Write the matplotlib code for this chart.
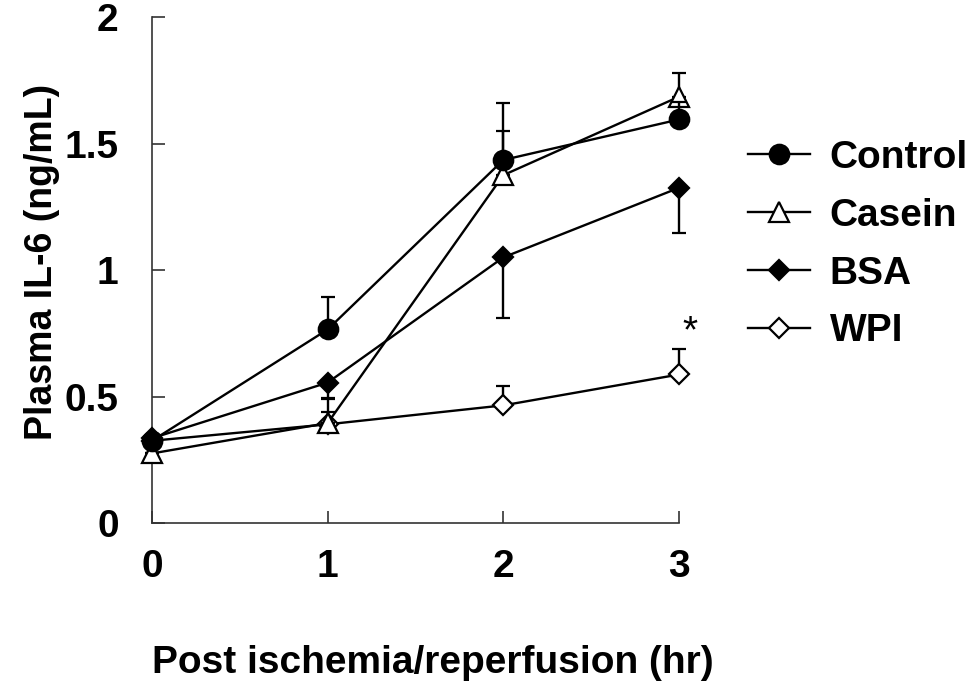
import numpy as np
import matplotlib.pyplot as plt

plt.rcParams['font.family'] = ['Liberation Sans', 'DejaVu Sans']
plt.rcParams['font.weight'] = 'bold'

# time points (hr)
hours = [0, 1, 2, 3]

# plasma IL-6 (ng/mL)
control = [0.325, 0.765, 1.435, 1.595]
casein = [0.275, 0.395, 1.375, 1.685]
bsa = [0.335, 0.555, 1.050, 1.325]
wpi = [0.325, 0.390, 0.465, 0.587]

# one-sided error bars (upper for most, lower for BSA)
control_err = [0.0, 0.13, 0.115, 0.07]
casein_err = [0.0, 0.045, 0.285, 0.095]
bsa_err = [0.0, 0.06, 0.24, 0.18]
wpi_err = [0.0, 0.10, 0.075, 0.10]

zeros = [0, 0, 0, 0]

fig = plt.figure(figsize=(9.78, 6.86), dpi=100)
ax = fig.add_axes([0.1554, 0.2376, 0.5389, 0.7376])

lw = 1.7
common = dict(color='black', lw=lw, capsize=5, capthick=lw, elinewidth=lw,
              markeredgewidth=1.6, clip_on=False)

c_wpi = ax.errorbar(hours, wpi, yerr=[zeros, wpi_err], marker='D', markersize=10.5,
                    markerfacecolor='white', markeredgecolor='black', zorder=3, **common)
c_bsa = ax.errorbar(hours, bsa, yerr=[bsa_err, zeros], marker='D', markersize=10.5,
                    markerfacecolor='black', markeredgecolor='black', zorder=4, **common)
c_cas = ax.errorbar(hours, casein, yerr=[zeros, casein_err], marker='^', markersize=14,
                    markerfacecolor='white', markeredgecolor='black', zorder=5, **common)
c_con = ax.errorbar(hours, control, yerr=[zeros, control_err], marker='o', markersize=14,
                    markerfacecolor='black', markeredgecolor='black', zorder=6, **common)

ax.text(3.06, 0.755, '*', fontsize=28, fontweight='normal', ha='center', va='center')

ax.set_xlim(0, 3)
ax.set_ylim(0, 2)
ax.set_xticks(hours)
ax.set_yticks([0, 0.5, 1, 1.5, 2])
ax.set_yticklabels(['0', '0.5', '1', '1.5', '2'])
ax.spines['top'].set_visible(False)
ax.spines['right'].set_visible(False)
for s in ['left', 'bottom']:
    ax.spines[s].set_linewidth(1.2)
    ax.spines[s].set_color('#333333')
ax.tick_params(direction='in', length=9, width=1.2, color='#333333', labelsize=28)
ax.tick_params(axis='y', pad=24)
ax.tick_params(axis='x', pad=19)

ax.set_xlabel('Post ischemia/reperfusion (hr)', fontsize=28, fontweight='bold', labelpad=43)
ax.xaxis.label.set_x(0.533)
ax.set_ylabel('Plasma IL-6 (ng/mL)', fontsize=27, fontweight='bold', labelpad=3)
ax.yaxis.label.set_y(0.515)

handles = [c_con[0], c_cas[0], c_bsa[0], c_wpi[0]]
labels = ['Control', 'Casein', 'BSA', 'WPI']
leg = ax.legend(handles, labels, loc='upper left', bbox_to_anchor=(1.131, 0.757),
                frameon=False, fontsize=28, handlelength=1.6, handletextpad=0.5,
                labelspacing=0.56, borderaxespad=0, borderpad=0)
for t in leg.get_texts():
    t.set_fontweight('bold')

fig.savefig('out.png', dpi=100)
